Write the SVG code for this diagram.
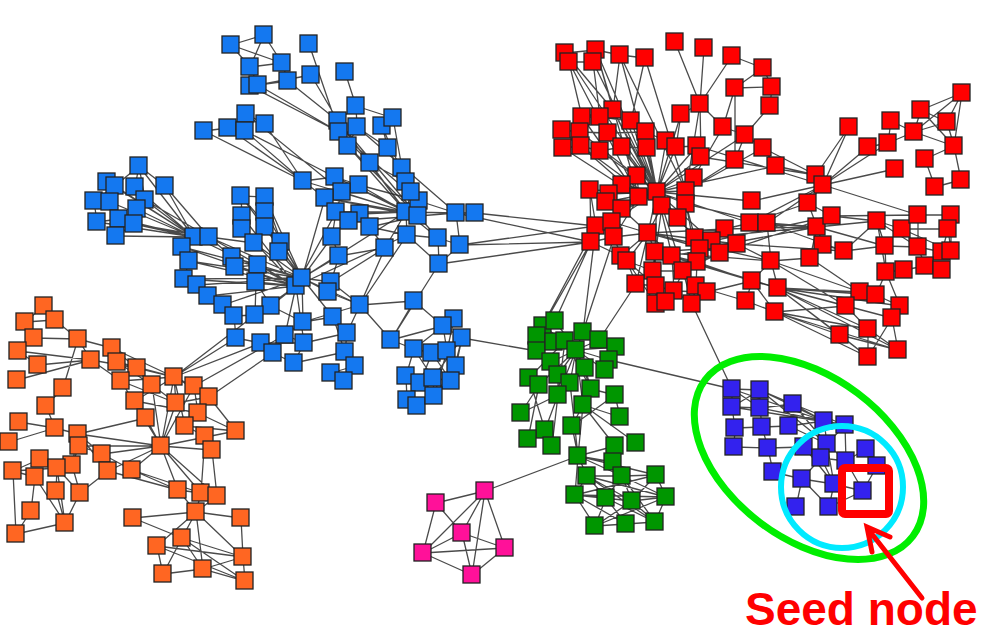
<svg xmlns="http://www.w3.org/2000/svg" width="987" height="636" viewBox="0 0 987 636">
<style>
.n{width:17px;height:17px;stroke:#222;stroke-width:1.3}
.b{fill:#1478f0}.r{fill:#ff0000}.o{fill:#ff6622}.g{fill:#009600}.p{fill:#ff1199}.v{fill:#3322ee}
.e{fill:none;stroke:#2a2a2a;stroke-width:1.3;stroke-opacity:0.85}
</style>
<rect width="987" height="636" fill="#fff"/>
<g id="edges" class="e">
<path d="M231 45L264 35M231 45L250 67M264 35L250 67M231 45L282 63M264 35L282 63M250 67L282 63M282 63L288 81M250 67L258 85M250 86L288 81M258 85L311 75M309 44L339 132M345 72L356 106M356 106L338 121M356 106L357 127M356 106L393 118M258 85L339 132M250 86L339 132M288 81L338 121M311 75L338 121M338 121L348 146M357 127L348 146M339 132L370 163M357 127L388 148M382 126L388 148M393 118L402 168M388 148L406 182M370 163L406 182M382 126L406 182M393 118L382 126M338 121L406 212M339 132L419 201M348 146L418 216M357 127L456 213M370 163L406 212M402 168L418 216M406 182L418 216M348 146L406 212M338 121L418 216M204 131L228 128M228 128L246 114M246 114L245 131M246 114L265 124M204 131L303 181M228 128L303 181M245 131L335 177M265 124L303 181M246 114L342 192M245 131L303 181"/>
<path d="M406 212L456 213M418 216L456 213M456 213L475 213M406 212L438 238M418 216L438 238M438 238L460 245M407 235L438 238M456 213L460 245M406 212L407 235M438 238L439 264M460 245L439 264M359 185L406 212M335 177L418 216M325 198L406 212M342 192L406 212M336 212L406 212M360 214L406 212M349 221L418 216M370 227L418 216M370 227L407 235M336 212L332 237M332 237L339 256M360 214L385 248M385 248L406 212M339 256L385 248M303 181L335 177M335 177L359 185M303 181L325 198M342 192L336 212M336 212L349 221M360 214L370 227M419 201L418 216M411 192L406 212M419 201L456 213M303 181L406 212M335 177L406 212M359 185L419 201M325 198L418 216M439 264L407 235"/>
<path d="M139 166L115 186M139 166L165 186M139 166L135 187M139 166L145 200M107 182L115 186M115 186L94 201M135 187L145 200M145 200L137 209M110 202L119 219M97 222L119 219M119 219L134 224M134 224L116 236M94 201L97 222M139 166L194 237M135 187L194 237M165 186L194 237M145 200L194 237M137 209L194 237M119 219L194 237M134 224L194 237M116 236L194 237M97 222L194 237M110 202L194 237M115 186L194 237M107 182L194 237M145 200L209 237M134 224L209 237M165 186L209 237"/>
<path d="M209 237L302 278M194 237L296 286M182 247L302 278M189 261L296 286M184 279L296 286M197 285L302 278M232 257L302 278M235 267L296 286M254 243L302 278M281 242L302 278M279 252L302 278M258 265L296 286M256 282L296 286M241 196L302 278M265 197L302 278M242 216L296 286M265 212L302 278M242 229L296 286M265 227L302 278M331 282L302 278M328 292L302 278M271 306L296 286M255 315L296 286M303 322L302 278M285 335L296 286M304 343L296 286M333 317L302 278M360 305L302 278M406 212L302 278M325 198L302 278M332 237L302 278M339 256L302 278M407 235L296 286M336 212L296 286M189 261L302 278M208 296L296 286M184 279L302 278M223 305L302 278M182 247L296 286M209 237L296 286"/>
<path d="M241 196L242 216M242 216L242 229M265 197L265 212M265 212L265 227M241 196L281 242M265 197L281 242M194 237L209 237M194 237L182 247M182 247L189 261M189 261L184 279M184 279L197 285M197 285L208 296M208 296L223 305M223 305L234 316M209 237L254 243M209 237L232 257M232 257L235 267M235 267L258 265M258 265L256 282M256 282L271 306M271 306L255 315M255 315L234 316M234 316L236 338M236 338L261 343M261 343L273 353M273 353L285 335M285 335L304 343M304 343L294 363M303 322L333 317M333 317L347 333M347 333L345 352M345 352L355 366M355 366L331 373M331 373L344 381M360 305L391 340M391 340L414 301M360 305L414 301M414 301L443 326M391 340L443 326M391 340L414 349M360 305L331 282M360 305L385 248M360 305L328 292M347 333L360 305M303 322L360 305M261 343L304 343M241 196L265 197M242 229L254 243M265 227L281 242M285 335L303 322M294 363L345 352M304 343L347 333M273 353L294 363M271 306L303 322M331 282L328 292M302 278L296 286M256 282L255 315M333 317L345 352M339 256L331 282M385 248L331 282M407 235L360 305M439 264L391 340"/>
<path d="M454 319L443 326M443 326L462 338M443 326L414 349M414 349L432 353M432 353L447 351M447 351L456 366M462 338L456 366M414 349L406 376M406 376L420 383M420 383L433 378M433 378L451 381M451 381L456 366M406 376L407 400M407 400L417 406M417 406L434 396M434 396L433 378M447 351L451 381M432 353L420 383M462 338L451 381M447 351L434 396M456 366L434 396M443 326L447 351M454 319L447 351M462 338L433 378M414 349L433 378M432 353L451 381M462 338L537 351"/>
<path d="M475 213L596 226M460 245L596 226M460 245L591 242M439 264L591 242M456 213L591 242M174 377L261 343M174 377L236 338M194 386L285 335M174 377L255 315M209 397L273 353"/>
<path d="M576 350L543 326M576 350L555 321M576 350L537 336M576 350L554 342M576 350L565 341M576 350L583 332M576 350L599 340M576 350L616 347M576 350L551 362M576 350L609 360M576 350L585 368M576 350L605 370M576 350L558 375M576 350L570 383M576 350L591 389M576 350L558 395M576 350L583 405M576 350L539 385M565 341L537 351M565 341L529 378M565 341L558 395M565 341L591 389M543 326L555 321M537 336L537 351M537 351L551 362M551 362L558 375M529 378L539 385M558 375L558 395M558 395L545 430M558 395L521 413M539 385L528 439M529 378L545 430M583 405L620 417M583 405L572 426M572 426L578 456M583 405L578 456M570 383L578 456M615 446L578 456M552 446L558 395M528 439L545 430M636 443L583 405M620 417L615 395M591 389L615 395M609 360L616 347M521 413L539 385M591 389L583 405M615 395L572 426M585 368L591 389M583 405L615 446"/>
<path d="M578 456L587 476M578 456L622 476M578 456L656 475M587 476L575 495M587 476L606 498M587 476L632 501M587 476L666 497M622 476L606 498M622 476L632 501M622 476L666 497M656 475L666 497M575 495L595 526M606 498L595 526M632 501L595 526M666 497L655 522M606 498L626 524M632 501L655 522M595 526L626 524M626 524L655 522M575 495L606 498M575 495L632 501M656 475L575 495M622 476L655 522M587 476L655 522M613 462L622 476M613 462L578 456M575 495L666 497M606 498L655 522M595 526L666 497M587 476L622 476M622 476L656 475M575 495L626 524M632 501L666 497M656 475L632 501M578 456L575 495"/>
<path d="M543 326L591 242M555 321L591 242M583 332L596 226M583 332L614 237M537 336L596 226M599 340L636 284M609 360L732 389M692 304L732 389M578 456L485 491"/>
<path d="M485 491L436 503M436 503L462 533M436 503L423 553M485 491L462 533M485 491L505 548M485 491L423 553M485 491L472 575M462 533L505 548M462 533L423 553M462 533L472 575M423 553L505 548M423 553L472 575M505 548L472 575"/>
<path d="M44 306L55 320M44 306L25 322M25 322L55 320M55 320L78 339M25 322L34 338M34 338L78 339M78 339L91 360M18 351L91 360M18 351L38 365M38 365L91 360M17 380L91 360M78 339L112 348M112 348L137 368M91 360L137 368M91 360L121 381M112 348L174 377M117 362L174 377M137 368L174 377M121 381L174 377M117 362L152 385M137 368L152 385M174 377L194 386M174 377L176 403M152 385L176 403M121 381L176 403M174 377L135 401M135 401L198 413M194 386L198 413M176 403L209 397M174 377L209 397M78 339L63 388M63 388L46 406M46 406L55 428M19 422L55 428M55 428L78 434M78 434L146 418M78 434L161 446M79 446L161 446M78 434L102 454M79 446L102 454M102 454L161 446M146 418L161 446M161 446L174 377M161 446L194 386M161 446L176 403M161 446L178 490M161 446L201 493M161 446L217 496M161 446L108 471M161 446L132 470M132 470L178 490M132 470L201 493M108 471L178 490M102 454L132 470M135 401L146 418M198 413L185 426M185 426L236 431M205 436L185 426M212 450L205 436M212 450L217 496M205 436L201 493M236 431L198 413M209 397L236 431M174 377L185 426M78 434L108 471M79 446L72 465M72 465L57 468M13 471L57 468M13 471L35 477M13 471L16 534M57 468L56 491M57 468L80 493M57 468L65 523M35 477L31 511M31 511L16 534M16 534L65 523M80 493L65 523M56 491L65 523M35 477L65 523M72 465L80 493M78 434L72 465M80 493L108 471M9 442L55 428M40 459L57 468M40 459L13 471M152 385L161 446M121 381L161 446M135 401L161 446M161 446L212 450M161 446L236 431"/>
<path d="M178 490L196 512M201 493L196 512M217 496L196 512M196 512L133 518M196 512L241 518M196 512L182 538M196 512L157 546M196 512L243 557M196 512L203 569M182 538L243 557M182 538L203 569M182 538L245 581M157 546L243 557M157 546L163 574M163 574L203 569M203 569L243 557M203 569L245 581M243 557L245 581M241 518L243 557M133 518L182 538M178 490L201 493M201 493L217 496M157 546L245 581M182 538L163 574"/>
<path d="M732 389L760 390M732 389L732 407M760 390L760 408M732 407L760 408M760 390L793 404M760 408L793 404M732 389L760 408M760 390L732 407M760 408L824 421M760 390L824 421M793 404L824 421M793 404L845 425M760 408L845 425M760 390L827 444M732 407L735 428M735 428L762 427M760 408L762 427M762 427L789 426M789 426L824 421M824 421L845 425M735 428L734 447M734 447L768 448M762 427L768 448M768 448L773 472M768 448L804 447M789 426L827 444M827 444L821 458M827 444L846 461M845 425L846 461M866 449L846 461M866 449L877 466M821 458L846 461M877 466L863 491M846 461L863 491M821 458L834 484M834 484L863 491M802 479L834 484M773 472L802 479M802 479L796 507M834 484L829 507M821 458L802 479M804 447L821 458M804 447L834 484M802 479L829 507M827 444L834 484M829 507L863 491M824 421L827 444M845 425L827 444M793 404L827 444M732 389L824 421M732 407L845 425"/>
<path d="M565 53L613 110M569 62L582 117M596 50L613 110M593 62L600 117M620 55L613 110M645 58L631 121M565 53L596 50M596 50L620 55M620 55L645 58M569 62L593 62M613 110L582 117M582 117L600 117M600 117L631 121M562 130L580 132M580 132L608 133M563 148L581 146M581 146L600 151M600 151L622 147M608 133L646 132M646 132L666 141M622 147L647 148M565 53L657 192M569 62L639 197M596 50L657 192M593 62L657 192M620 55L686 191M645 58L686 191M613 110L657 192M582 117L639 197M600 117L657 192M631 121L657 192M562 130L639 197M580 132L657 192M608 133L657 192M646 132L657 192M666 141L657 192M563 148L639 197M581 146L662 206M600 151L657 192M622 147L662 206M647 148L657 192M676 147L657 192M697 146L657 192M701 157L657 192M700 104L686 191M681 114L657 192M723 127L686 191M745 135L657 192M763 148L686 191M776 166L657 192M735 160L686 191M596 50L639 197M620 55L657 192M613 110L662 206"/>
<path d="M675 42L700 104M704 48L700 104M732 56L700 104M732 56L763 68M763 68L772 87M735 88L772 87M772 87L770 106M735 88L723 127M770 106L745 135M700 104L681 114M700 104L723 127M723 127L745 135M745 135L763 148M763 148L776 166M735 160L745 135M735 88L735 160M681 114L676 147M666 141L676 147M676 147L697 146M697 146L701 157M700 104L701 157M763 68L735 88"/>
<path d="M637 176L657 192M694 178L657 192M590 190L657 192M622 185L657 192M609 194L657 192M606 202L657 192M639 197L657 192M622 209L657 192M662 206L657 192M686 204L657 192M678 218L657 192M686 191L657 192M648 233L657 192M695 238L657 192M596 226L657 192M612 222L657 192M591 242L639 197M614 237L639 197M655 252L657 192M672 256L657 192M697 262L686 204M683 271L662 206M653 271L662 206M712 241L657 192M752 201L657 192M750 223L657 192M767 223L686 204"/>
<path d="M590 190L596 226M590 190L591 242M596 226L612 222M596 226L591 242M612 222L614 237M591 242L614 237M614 237L648 233M612 222L648 233M648 233L621 256M648 233L627 261M621 256L627 261M627 261L636 284M627 261L653 271M648 233L655 252M655 252L672 256M655 252L653 271M653 271L636 284M653 271L656 286M636 284L656 286M656 286L674 291M656 286L656 304M674 291L666 302M656 304L666 302M683 271L653 271M683 271L674 291M683 271L672 256M672 256L697 262M697 262L696 286M696 286L707 292M707 292L674 291M674 291L692 304M696 286L692 304M683 271L692 304M700 249L697 262M700 249L695 238M695 238L712 241M712 241L720 253M737 244L720 253M725 229L737 244M725 229L750 223M750 223L767 223M712 241L737 244M695 238L725 229M678 218L695 238M686 204L695 238M662 206L648 233M622 209L648 233M639 197L622 209M622 185L639 197M622 185L609 194M609 194L606 202M606 202L622 209M637 176L622 185M637 176L639 197M694 178L686 191M686 191L686 204M662 206L678 218M720 253L697 262M737 244L771 261M697 262L752 281M707 292L752 281M696 286L746 301M700 249L655 252M720 253L683 271M648 233L636 284M655 252L656 286M672 256L674 291M621 256L656 286M627 261L656 304M648 233L672 256M591 242L621 256M614 237L621 256M648 233L725 229M648 233L737 244M648 233L720 253M648 233L712 241M655 252L752 281M655 252L771 261M672 256L778 288M648 233L771 261M672 256L737 244"/>
<path d="M849 127L823 185M868 147L823 185M888 143L823 185M895 169L823 185M849 127L816 175M823 185L767 223M823 185L750 223M823 185L752 201M816 175L776 166M816 175L763 148M823 185L808 203M808 203L750 223M823 185L918 215M816 175L701 157M823 185L697 146M891 121L914 132M921 110L914 132M921 110L947 122M921 110L962 93M914 132L947 122M947 122L962 93M914 132L954 146M947 122L954 146M962 93L954 146M954 146L961 180M925 159L954 146M925 159L935 187M888 143L914 132M868 147L888 143M935 187L961 180M921 110L954 146M962 93L914 132M888 143L891 121"/>
<path d="M877 221L902 229M902 229L918 215M918 215L951 215M951 215L948 229M902 229L948 229M877 221L885 246M885 246L918 247M918 247L942 252M942 252L951 251M948 229L951 251M902 229L918 247M918 215L918 247M877 221L886 272M886 272L904 270M904 270L925 266M925 266L942 270M918 247L925 266M885 246L886 272M951 215L951 251M948 229L942 252M832 216L877 221M817 227L877 221M817 227L885 246M844 251L885 246M844 251L877 221M832 216L918 215M808 203L832 216M808 203L817 227M817 227L823 245M823 245L844 251M810 258L817 227M810 258L823 245M767 223L817 227M750 223L817 227M767 223L844 251M695 238L817 227M725 229L817 227M737 244L844 251M712 241L832 216M700 249L817 227M720 253L832 216M902 229L951 251M877 221L918 247"/>
<path d="M778 288L860 292M778 288L876 295M778 288L846 306M778 288L900 306M778 288L892 318M778 288L868 329M778 288L840 335M778 288L898 350M778 288L868 357M775 312L846 306M775 312L868 329M775 312L840 335M775 312L868 357M775 312L898 350M771 261L860 292M771 261L846 306M860 292L876 295M876 295L900 306M846 306L868 329M900 306L892 318M892 318L898 350M868 329L868 357M840 335L868 357M876 295L886 272M900 306L886 272M868 329L898 350M752 281L778 288M752 281L775 312M771 261L752 281M771 261L810 258M771 261L767 223M752 281L746 301M746 301L775 312M771 261L778 288M810 258L860 292M892 318L868 357M840 335L898 350"/>
</g>
<g id="blue-nodes">
<g id="b1"><rect class="n b" x="222" y="36"/></g><g id="b2"><rect class="n b" x="255" y="26"/></g><g id="b3"><rect class="n b" x="300" y="35"/></g><g id="b4"><rect class="n b" x="241" y="58"/></g><g id="b5"><rect class="n b" x="273" y="54"/></g><g id="b6"><rect class="n b" x="241" y="77"/></g><g id="b7"><rect class="n b" x="249" y="76"/></g><g id="b8"><rect class="n b" x="279" y="72"/></g><g id="b9"><rect class="n b" x="302" y="66"/></g><g id="b10"><rect class="n b" x="336" y="63"/></g>
<g id="b11"><rect class="n b" x="347" y="97"/></g><g id="b12"><rect class="n b" x="329" y="112"/></g><g id="b13"><rect class="n b" x="330" y="123"/></g><g id="b14"><rect class="n b" x="348" y="118"/></g><g id="b15"><rect class="n b" x="373" y="117"/></g><g id="b16"><rect class="n b" x="384" y="109"/></g><g id="b17"><rect class="n b" x="339" y="137"/></g><g id="b18"><rect class="n b" x="379" y="139"/></g><g id="b19"><rect class="n b" x="361" y="154"/></g><g id="b20"><rect class="n b" x="393" y="159"/></g>
<g id="b21"><rect class="n b" x="397" y="173"/></g><g id="b22"><rect class="n b" x="195" y="122"/></g><g id="b23"><rect class="n b" x="219" y="119"/></g><g id="b24"><rect class="n b" x="237" y="105"/></g><g id="b25"><rect class="n b" x="236" y="122"/></g><g id="b26"><rect class="n b" x="256" y="115"/></g><g id="b27"><rect class="n b" x="130" y="157"/></g><g id="b28"><rect class="n b" x="98" y="173"/></g><g id="b29"><rect class="n b" x="106" y="177"/></g><g id="b30"><rect class="n b" x="126" y="178"/></g>
<g id="b31"><rect class="n b" x="156" y="177"/></g><g id="b32"><rect class="n b" x="85" y="192"/></g><g id="b33"><rect class="n b" x="101" y="193"/></g><g id="b34"><rect class="n b" x="136" y="191"/></g><g id="b35"><rect class="n b" x="128" y="200"/></g><g id="b36"><rect class="n b" x="88" y="213"/></g><g id="b37"><rect class="n b" x="110" y="210"/></g><g id="b38"><rect class="n b" x="125" y="215"/></g><g id="b39"><rect class="n b" x="107" y="227"/></g><g id="b40"><rect class="n b" x="185" y="228"/></g>
<g id="b41"><rect class="n b" x="200" y="228"/></g><g id="b42"><rect class="n b" x="173" y="238"/></g><g id="b43"><rect class="n b" x="180" y="252"/></g><g id="b44"><rect class="n b" x="175" y="270"/></g><g id="b45"><rect class="n b" x="188" y="276"/></g><g id="b46"><rect class="n b" x="199" y="287"/></g><g id="b47"><rect class="n b" x="214" y="296"/></g><g id="b48"><rect class="n b" x="225" y="307"/></g><g id="b49"><rect class="n b" x="232" y="187"/></g><g id="b50"><rect class="n b" x="256" y="188"/></g>
<g id="b51"><rect class="n b" x="233" y="207"/></g><g id="b52"><rect class="n b" x="256" y="203"/></g><g id="b53"><rect class="n b" x="233" y="220"/></g><g id="b54"><rect class="n b" x="256" y="218"/></g><g id="b55"><rect class="n b" x="223" y="248"/></g><g id="b56"><rect class="n b" x="226" y="258"/></g><g id="b57"><rect class="n b" x="245" y="234"/></g><g id="b58"><rect class="n b" x="272" y="233"/></g><g id="b59"><rect class="n b" x="270" y="243"/></g><g id="b60"><rect class="n b" x="249" y="256"/></g>
<g id="b61"><rect class="n b" x="247" y="273"/></g><g id="b62"><rect class="n b" x="287" y="277"/></g><g id="b63"><rect class="n b" x="293" y="269"/></g><g id="b64"><rect class="n b" x="322" y="273"/></g><g id="b65"><rect class="n b" x="319" y="283"/></g><g id="b66"><rect class="n b" x="262" y="297"/></g><g id="b67"><rect class="n b" x="246" y="306"/></g><g id="b68"><rect class="n b" x="227" y="329"/></g><g id="b69"><rect class="n b" x="294" y="313"/></g><g id="b70"><rect class="n b" x="252" y="334"/></g>
<g id="b71"><rect class="n b" x="264" y="344"/></g><g id="b72"><rect class="n b" x="276" y="326"/></g><g id="b73"><rect class="n b" x="295" y="334"/></g><g id="b74"><rect class="n b" x="285" y="354"/></g><g id="b75"><rect class="n b" x="324" y="308"/></g><g id="b76"><rect class="n b" x="351" y="296"/></g><g id="b77"><rect class="n b" x="338" y="324"/></g><g id="b78"><rect class="n b" x="336" y="343"/></g><g id="b79"><rect class="n b" x="346" y="357"/></g><g id="b80"><rect class="n b" x="322" y="364"/></g>
<g id="b81"><rect class="n b" x="335" y="372"/></g><g id="b82"><rect class="n b" x="382" y="331"/></g><g id="b83"><rect class="n b" x="405" y="292"/></g><g id="b84"><rect class="n b" x="294" y="172"/></g><g id="b85"><rect class="n b" x="326" y="168"/></g><g id="b86"><rect class="n b" x="350" y="176"/></g><g id="b87"><rect class="n b" x="333" y="183"/></g><g id="b88"><rect class="n b" x="316" y="189"/></g><g id="b89"><rect class="n b" x="327" y="203"/></g><g id="b90"><rect class="n b" x="351" y="205"/></g>
<g id="b91"><rect class="n b" x="340" y="212"/></g><g id="b92"><rect class="n b" x="361" y="218"/></g><g id="b93"><rect class="n b" x="397" y="203"/></g><g id="b94"><rect class="n b" x="410" y="192"/></g><g id="b95"><rect class="n b" x="409" y="207"/></g><g id="b96"><rect class="n b" x="447" y="204"/></g><g id="b97"><rect class="n b" x="466" y="204"/></g><g id="b98"><rect class="n b" x="398" y="226"/></g><g id="b99"><rect class="n b" x="429" y="229"/></g><g id="b100"><rect class="n b" x="451" y="236"/></g>
<g id="b101"><rect class="n b" x="376" y="239"/></g><g id="b102"><rect class="n b" x="430" y="255"/></g><g id="b103"><rect class="n b" x="323" y="228"/></g><g id="b104"><rect class="n b" x="330" y="247"/></g><g id="b105"><rect class="n b" x="402" y="183"/></g>
<g id="b107"><rect class="n b" x="445" y="310"/></g><g id="b108"><rect class="n b" x="434" y="317"/></g><g id="b109"><rect class="n b" x="453" y="329"/></g><g id="b110"><rect class="n b" x="405" y="340"/></g><g id="b111"><rect class="n b" x="423" y="344"/></g><g id="b112"><rect class="n b" x="438" y="342"/></g><g id="b113"><rect class="n b" x="447" y="357"/></g><g id="b114"><rect class="n b" x="397" y="367"/></g><g id="b115"><rect class="n b" x="411" y="374"/></g><g id="b116"><rect class="n b" x="424" y="369"/></g><g id="b117"><rect class="n b" x="442" y="372"/></g><g id="b118"><rect class="n b" x="398" y="391"/></g><g id="b119"><rect class="n b" x="408" y="397"/></g><g id="b120"><rect class="n b" x="425" y="387"/></g>
</g>
<g id="red-nodes">
<g id="r1"><rect class="n r" x="556" y="44"/></g><g id="r2"><rect class="n r" x="560" y="53"/></g><g id="r3"><rect class="n r" x="587" y="41"/></g><g id="r4"><rect class="n r" x="584" y="53"/></g><g id="r5"><rect class="n r" x="611" y="46"/></g><g id="r6"><rect class="n r" x="636" y="49"/></g><g id="r7"><rect class="n r" x="666" y="33"/></g><g id="r8"><rect class="n r" x="695" y="39"/></g><g id="r9"><rect class="n r" x="723" y="47"/></g><g id="r10"><rect class="n r" x="754" y="59"/></g>
<g id="r11"><rect class="n r" x="726" y="79"/></g><g id="r12"><rect class="n r" x="763" y="78"/></g><g id="r13"><rect class="n r" x="761" y="97"/></g><g id="r14"><rect class="n r" x="691" y="95"/></g><g id="r15"><rect class="n r" x="672" y="105"/></g><g id="r16"><rect class="n r" x="714" y="118"/></g><g id="r17"><rect class="n r" x="736" y="126"/></g><g id="r18"><rect class="n r" x="754" y="139"/></g><g id="r19"><rect class="n r" x="767" y="157"/></g><g id="r20"><rect class="n r" x="726" y="151"/></g>
<g id="r21"><rect class="n r" x="604" y="101"/></g><g id="r22"><rect class="n r" x="573" y="108"/></g><g id="r23"><rect class="n r" x="591" y="108"/></g><g id="r24"><rect class="n r" x="622" y="112"/></g><g id="r25"><rect class="n r" x="553" y="121"/></g><g id="r26"><rect class="n r" x="571" y="123"/></g><g id="r27"><rect class="n r" x="599" y="124"/></g><g id="r28"><rect class="n r" x="637" y="123"/></g><g id="r29"><rect class="n r" x="657" y="132"/></g><g id="r30"><rect class="n r" x="554" y="139"/></g>
<g id="r31"><rect class="n r" x="572" y="137"/></g><g id="r32"><rect class="n r" x="591" y="142"/></g><g id="r33"><rect class="n r" x="613" y="138"/></g><g id="r34"><rect class="n r" x="638" y="139"/></g><g id="r35"><rect class="n r" x="667" y="138"/></g><g id="r36"><rect class="n r" x="688" y="137"/></g><g id="r37"><rect class="n r" x="692" y="148"/></g><g id="r38"><rect class="n r" x="628" y="167"/></g><g id="r39"><rect class="n r" x="685" y="169"/></g><g id="r40"><rect class="n r" x="581" y="181"/></g>
<g id="r41"><rect class="n r" x="613" y="176"/></g><g id="r42"><rect class="n r" x="600" y="185"/></g><g id="r43"><rect class="n r" x="597" y="193"/></g><g id="r44"><rect class="n r" x="630" y="188"/></g><g id="r45"><rect class="n r" x="648" y="183"/></g><g id="r46"><rect class="n r" x="677" y="182"/></g><g id="r47"><rect class="n r" x="613" y="200"/></g><g id="r48"><rect class="n r" x="653" y="197"/></g><g id="r49"><rect class="n r" x="677" y="195"/></g><g id="r50"><rect class="n r" x="669" y="209"/></g>
<g id="r51"><rect class="n r" x="743" y="192"/></g><g id="r52"><rect class="n r" x="587" y="217"/></g><g id="r53"><rect class="n r" x="603" y="213"/></g><g id="r54"><rect class="n r" x="582" y="233"/></g><g id="r55"><rect class="n r" x="605" y="228"/></g><g id="r56"><rect class="n r" x="639" y="224"/></g><g id="r57"><rect class="n r" x="686" y="229"/></g><g id="r58"><rect class="n r" x="716" y="220"/></g><g id="r59"><rect class="n r" x="741" y="214"/></g><g id="r60"><rect class="n r" x="758" y="214"/></g>
<g id="r61"><rect class="n r" x="703" y="232"/></g><g id="r62"><rect class="n r" x="728" y="235"/></g><g id="r63"><rect class="n r" x="691" y="240"/></g><g id="r64"><rect class="n r" x="711" y="244"/></g><g id="r65"><rect class="n r" x="612" y="247"/></g><g id="r66"><rect class="n r" x="618" y="252"/></g><g id="r67"><rect class="n r" x="646" y="243"/></g><g id="r68"><rect class="n r" x="663" y="247"/></g><g id="r69"><rect class="n r" x="688" y="253"/></g><g id="r70"><rect class="n r" x="762" y="252"/></g>
<g id="r71"><rect class="n r" x="674" y="262"/></g><g id="r72"><rect class="n r" x="644" y="262"/></g><g id="r73"><rect class="n r" x="627" y="275"/></g><g id="r74"><rect class="n r" x="647" y="277"/></g><g id="r75"><rect class="n r" x="665" y="282"/></g><g id="r76"><rect class="n r" x="687" y="277"/></g><g id="r77"><rect class="n r" x="698" y="283"/></g><g id="r78"><rect class="n r" x="743" y="272"/></g><g id="r79"><rect class="n r" x="769" y="279"/></g><g id="r80"><rect class="n r" x="647" y="295"/></g>
<g id="r81"><rect class="n r" x="657" y="293"/></g><g id="r82"><rect class="n r" x="683" y="295"/></g><g id="r83"><rect class="n r" x="737" y="292"/></g><g id="r84"><rect class="n r" x="766" y="303"/></g><g id="r85"><rect class="n r" x="840" y="118"/></g><g id="r86"><rect class="n r" x="859" y="138"/></g><g id="r87"><rect class="n r" x="879" y="134"/></g><g id="r88"><rect class="n r" x="882" y="112"/></g><g id="r89"><rect class="n r" x="912" y="101"/></g><g id="r90"><rect class="n r" x="905" y="123"/></g>
<g id="r91"><rect class="n r" x="938" y="113"/></g><g id="r92"><rect class="n r" x="953" y="84"/></g><g id="r93"><rect class="n r" x="945" y="137"/></g><g id="r94"><rect class="n r" x="916" y="150"/></g><g id="r95"><rect class="n r" x="952" y="171"/></g><g id="r96"><rect class="n r" x="926" y="178"/></g><g id="r97"><rect class="n r" x="886" y="160"/></g><g id="r98"><rect class="n r" x="807" y="166"/></g><g id="r99"><rect class="n r" x="814" y="176"/></g><g id="r100"><rect class="n r" x="799" y="194"/></g>
<g id="r101"><rect class="n r" x="808" y="218"/></g><g id="r102"><rect class="n r" x="823" y="207"/></g><g id="r103"><rect class="n r" x="814" y="236"/></g><g id="r104"><rect class="n r" x="835" y="242"/></g><g id="r105"><rect class="n r" x="801" y="249"/></g><g id="r106"><rect class="n r" x="868" y="212"/></g><g id="r107"><rect class="n r" x="893" y="220"/></g><g id="r108"><rect class="n r" x="909" y="206"/></g><g id="r109"><rect class="n r" x="942" y="206"/></g><g id="r110"><rect class="n r" x="939" y="220"/></g>
<g id="r111"><rect class="n r" x="876" y="237"/></g><g id="r112"><rect class="n r" x="909" y="238"/></g><g id="r113"><rect class="n r" x="933" y="243"/></g><g id="r114"><rect class="n r" x="942" y="242"/></g><g id="r115"><rect class="n r" x="877" y="263"/></g><g id="r116"><rect class="n r" x="895" y="261"/></g><g id="r117"><rect class="n r" x="916" y="257"/></g><g id="r118"><rect class="n r" x="933" y="261"/></g><g id="r119"><rect class="n r" x="851" y="283"/></g><g id="r120"><rect class="n r" x="867" y="286"/></g>
<g id="r121"><rect class="n r" x="837" y="297"/></g><g id="r122"><rect class="n r" x="891" y="297"/></g><g id="r123"><rect class="n r" x="883" y="309"/></g><g id="r124"><rect class="n r" x="859" y="320"/></g><g id="r125"><rect class="n r" x="831" y="326"/></g><g id="r126"><rect class="n r" x="889" y="341"/></g><g id="r127"><rect class="n r" x="859" y="348"/></g>
</g>
<g id="orange-nodes">
<g id="o1"><rect class="n o" x="35" y="297"/></g><g id="o2"><rect class="n o" x="46" y="311"/></g><g id="o3"><rect class="n o" x="16" y="313"/></g><g id="o4"><rect class="n o" x="25" y="329"/></g><g id="o5"><rect class="n o" x="69" y="330"/></g><g id="o6"><rect class="n o" x="9" y="342"/></g><g id="o7"><rect class="n o" x="103" y="339"/></g><g id="o8"><rect class="n o" x="29" y="356"/></g><g id="o9"><rect class="n o" x="82" y="351"/></g><g id="o10"><rect class="n o" x="108" y="353"/></g>
<g id="o11"><rect class="n o" x="128" y="359"/></g><g id="o12"><rect class="n o" x="165" y="368"/></g><g id="o13"><rect class="n o" x="8" y="371"/></g><g id="o14"><rect class="n o" x="112" y="372"/></g><g id="o15"><rect class="n o" x="143" y="376"/></g><g id="o16"><rect class="n o" x="185" y="377"/></g><g id="o17"><rect class="n o" x="54" y="379"/></g><g id="o18"><rect class="n o" x="126" y="392"/></g><g id="o19"><rect class="n o" x="167" y="394"/></g><g id="o20"><rect class="n o" x="200" y="388"/></g>
<g id="o21"><rect class="n o" x="189" y="404"/></g><g id="o22"><rect class="n o" x="37" y="397"/></g><g id="o23"><rect class="n o" x="137" y="409"/></g><g id="o24"><rect class="n o" x="10" y="413"/></g><g id="o25"><rect class="n o" x="46" y="419"/></g><g id="o26"><rect class="n o" x="176" y="417"/></g><g id="o27"><rect class="n o" x="227" y="422"/></g><g id="o28"><rect class="n o" x="69" y="425"/></g><g id="o29"><rect class="n o" x="196" y="427"/></g><g id="o30"><rect class="n o" x="0" y="433"/></g>
<g id="o31"><rect class="n o" x="70" y="437"/></g><g id="o32"><rect class="n o" x="152" y="437"/></g><g id="o33"><rect class="n o" x="203" y="441"/></g><g id="o34"><rect class="n o" x="93" y="445"/></g><g id="o35"><rect class="n o" x="31" y="450"/></g><g id="o36"><rect class="n o" x="4" y="462"/></g><g id="o37"><rect class="n o" x="63" y="456"/></g><g id="o38"><rect class="n o" x="48" y="459"/></g><g id="o39"><rect class="n o" x="26" y="468"/></g><g id="o40"><rect class="n o" x="99" y="462"/></g>
<g id="o41"><rect class="n o" x="123" y="461"/></g><g id="o42"><rect class="n o" x="47" y="482"/></g><g id="o43"><rect class="n o" x="71" y="484"/></g><g id="o44"><rect class="n o" x="169" y="481"/></g><g id="o45"><rect class="n o" x="192" y="484"/></g><g id="o46"><rect class="n o" x="208" y="487"/></g><g id="o47"><rect class="n o" x="187" y="503"/></g><g id="o48"><rect class="n o" x="124" y="509"/></g><g id="o49"><rect class="n o" x="22" y="502"/></g><g id="o50"><rect class="n o" x="232" y="509"/></g>
<g id="o51"><rect class="n o" x="56" y="514"/></g><g id="o52"><rect class="n o" x="7" y="525"/></g><g id="o53"><rect class="n o" x="173" y="529"/></g><g id="o54"><rect class="n o" x="148" y="537"/></g><g id="o55"><rect class="n o" x="234" y="548"/></g><g id="o56"><rect class="n o" x="194" y="560"/></g><g id="o57"><rect class="n o" x="154" y="565"/></g><g id="o58"><rect class="n o" x="236" y="572"/></g>
</g>
<g id="green-nodes">
<g id="g1"><rect class="n g" x="534" y="317"/></g><g id="g2"><rect class="n g" x="546" y="312"/></g><g id="g3"><rect class="n g" x="528" y="327"/></g><g id="g4"><rect class="n g" x="528" y="342"/></g><g id="g5"><rect class="n g" x="545" y="333"/></g><g id="g6"><rect class="n g" x="556" y="332"/></g><g id="g7"><rect class="n g" x="574" y="323"/></g><g id="g8"><rect class="n g" x="567" y="341"/></g><g id="g9"><rect class="n g" x="590" y="331"/></g><g id="g10"><rect class="n g" x="607" y="338"/></g>
<g id="g11"><rect class="n g" x="542" y="353"/></g><g id="g12"><rect class="n g" x="600" y="351"/></g><g id="g13"><rect class="n g" x="576" y="359"/></g><g id="g14"><rect class="n g" x="596" y="361"/></g><g id="g15"><rect class="n g" x="549" y="366"/></g><g id="g16"><rect class="n g" x="520" y="369"/></g><g id="g17"><rect class="n g" x="530" y="376"/></g><g id="g18"><rect class="n g" x="561" y="374"/></g><g id="g19"><rect class="n g" x="582" y="380"/></g><g id="g20"><rect class="n g" x="606" y="386"/></g>
<g id="g21"><rect class="n g" x="549" y="386"/></g><g id="g22"><rect class="n g" x="574" y="396"/></g><g id="g23"><rect class="n g" x="512" y="404"/></g><g id="g24"><rect class="n g" x="611" y="408"/></g><g id="g25"><rect class="n g" x="563" y="417"/></g><g id="g26"><rect class="n g" x="536" y="421"/></g><g id="g27"><rect class="n g" x="519" y="430"/></g><g id="g28"><rect class="n g" x="543" y="437"/></g><g id="g29"><rect class="n g" x="627" y="434"/></g><g id="g30"><rect class="n g" x="606" y="437"/></g>
<g id="g31"><rect class="n g" x="569" y="447"/></g><g id="g32"><rect class="n g" x="604" y="453"/></g><g id="g33"><rect class="n g" x="578" y="467"/></g><g id="g34"><rect class="n g" x="613" y="467"/></g><g id="g35"><rect class="n g" x="647" y="466"/></g><g id="g36"><rect class="n g" x="566" y="486"/></g><g id="g37"><rect class="n g" x="597" y="489"/></g><g id="g38"><rect class="n g" x="623" y="492"/></g><g id="g39"><rect class="n g" x="657" y="488"/></g><g id="g40"><rect class="n g" x="586" y="517"/></g>
<g id="g41"><rect class="n g" x="617" y="515"/></g><g id="g42"><rect class="n g" x="646" y="513"/></g>
</g>
<g id="pink-nodes">
<g id="k1"><rect class="n p" x="476" y="482"/></g><g id="k2"><rect class="n p" x="427" y="494"/></g><g id="k3"><rect class="n p" x="453" y="524"/></g><g id="k4"><rect class="n p" x="496" y="539"/></g><g id="k5"><rect class="n p" x="414" y="544"/></g><g id="k6"><rect class="n p" x="463" y="566"/></g>
</g>
<g id="purple-nodes">
<g id="v1"><rect class="n v" x="723" y="380"/></g><g id="v2"><rect class="n v" x="751" y="381"/></g><g id="v3"><rect class="n v" x="723" y="398"/></g><g id="v4"><rect class="n v" x="751" y="399"/></g><g id="v5"><rect class="n v" x="784" y="395"/></g><g id="v6"><rect class="n v" x="726" y="419"/></g><g id="v7"><rect class="n v" x="753" y="418"/></g><g id="v8"><rect class="n v" x="780" y="417"/></g><g id="v9"><rect class="n v" x="815" y="412"/></g><g id="v10"><rect class="n v" x="836" y="416"/></g>
<g id="v11"><rect class="n v" x="725" y="438"/></g><g id="v12"><rect class="n v" x="759" y="439"/></g><g id="v13"><rect class="n v" x="818" y="435"/></g><g id="v14"><rect class="n v" x="795" y="438"/></g><g id="v15"><rect class="n v" x="857" y="440"/></g><g id="v16"><rect class="n v" x="812" y="449"/></g><g id="v17"><rect class="n v" x="837" y="452"/></g><g id="v18"><rect class="n v" x="868" y="457"/></g><g id="v19"><rect class="n v" x="764" y="463"/></g><g id="v20"><rect class="n v" x="793" y="470"/></g>
<g id="v21"><rect class="n v" x="825" y="475"/></g><g id="seed"><rect class="n v" x="854" y="482"/></g><g id="v23"><rect class="n v" x="787" y="498"/></g><g id="v24"><rect class="n v" x="820" y="498"/></g>
</g>
<g id="annotations" fill="none">
<ellipse cx="809" cy="458" rx="130" ry="81" transform="rotate(37 809 458)" stroke="#00ee00" stroke-width="7"/>
<circle cx="842" cy="487" r="61" stroke="#00eaff" stroke-width="6"/>
<rect x="842" y="468" width="47" height="46" rx="3" stroke="#ff0000" stroke-width="8"/>
<path d="M922 598L868 529M890 537L867 527L872 552" stroke="#ff0000" stroke-width="5" stroke-linecap="round" stroke-linejoin="miter"/>
<text x="745" y="625" font-family="'Liberation Sans', Arial, sans-serif" font-weight="bold" font-size="46" fill="#ff0000">Seed node</text>
</g>
</svg>
